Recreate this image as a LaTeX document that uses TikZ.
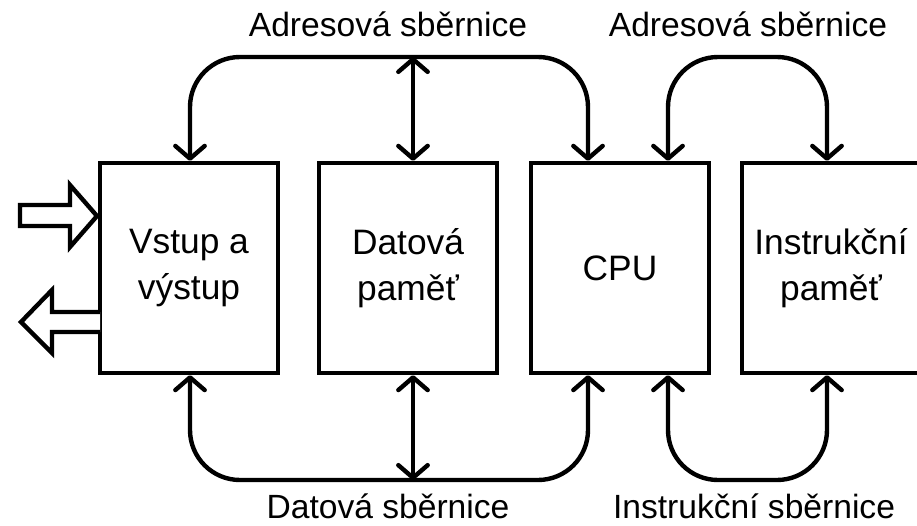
\documentclass[tikz,border=0pt]{standalone}
\usepackage{fontspec}
\setmainfont{Liberation Sans}
\usetikzlibrary{arrows.meta,calc}
\begin{document}
\begin{tikzpicture}[x=0.75pt,y=-0.75pt,
  box/.style={draw,line width=3.3pt,minimum width=133.5pt,minimum height=157.5pt,
    inner sep=0pt,align=center,font=\fontsize{26.5}{34.5}\selectfont},
  bus/.style={line width=3.3pt,rounded corners=37.5pt,line cap=round,
    >={Straight Barb[length=9.5pt,width=22pt,round]}},
  lbl/.style={anchor=base,inner sep=0pt,font=\fontsize{25.2}{30}\selectfont},
  fat/.style={line width=3.3pt,line join=miter,fill=white}]
\useasboundingbox (0,0) rectangle (917,525);
\clip (0,0) rectangle (917,525);

% blocks
\node[box] (io)  at (189,268) {Vstup a\\výstup};
\node[box] (dm)  at (408,268) {Datová\\paměť};
\node[box] (cpu) at (620,268) {CPU};
\node[box] (im)  at (831,268) {Instrukční\\paměť};

% bus levels
\coordinate (ta) at (0,57);
\coordinate (ba) at (0,480);

% bus attachment points on the blocks
\coordinate (ioT)   at ($(io.north)+(1,0)$);
\coordinate (dmT)   at ($(dm.north)+(5,0)$);
\coordinate (cpuTa) at ($(cpu.north)+(-32,0)$);
\coordinate (cpuTb) at ($(cpu.north)+(48,0)$);
\coordinate (imT)   at ($(im.north)+(-4,0)$);
\coordinate (ioB)   at ($(io.south)+(1,0)$);
\coordinate (dmB)   at ($(dm.south)+(5,0)$);
\coordinate (cpuBa) at ($(cpu.south)+(-32,0)$);
\coordinate (cpuBb) at ($(cpu.south)+(48,0)$);
\coordinate (imB)   at ($(im.south)+(-4,0)$);

% address buses
\draw[bus,<->] (ioT) -- (ioT |- ta) -- (cpuTa |- ta) -- (cpuTa);
\draw[bus,<->] (dmT) -- (dmT |- ta);
\draw[bus,<->] (cpuTb) -- (cpuTb |- ta) -- (imT |- ta) -- (imT);

% data and instruction buses
\draw[bus,<->] (ioB) -- (ioB |- ba) -- (cpuBa |- ba) -- (cpuBa);
\draw[bus,<->] (dmB) -- (dmB |- ba);
\draw[bus,<->] (cpuBb) -- (cpuBb |- ba) -- (imB |- ba) -- (imB);

% input and output block arrows
\draw[fat] (20,205) -- (70,205) -- (70,185) -- (97,216) -- (70,247) -- (70,226) -- (20,226) -- cycle;
\draw[fat] (100,312) -- (52,312) -- (52,290) -- (21,322) -- (52,353) -- (52,332) -- (100,332);

% bus labels
\node[lbl] (l1) at (388,36)  {Adresová sběrnice};
\node[lbl] (l2) at (748,36)  {Adresová sběrnice};
\node[lbl] (l3) at (388,518) {Datová sběrnice};
\node[lbl] (l4) at (754,518) {Instrukční sběrnice};
\end{tikzpicture}
\end{document}
